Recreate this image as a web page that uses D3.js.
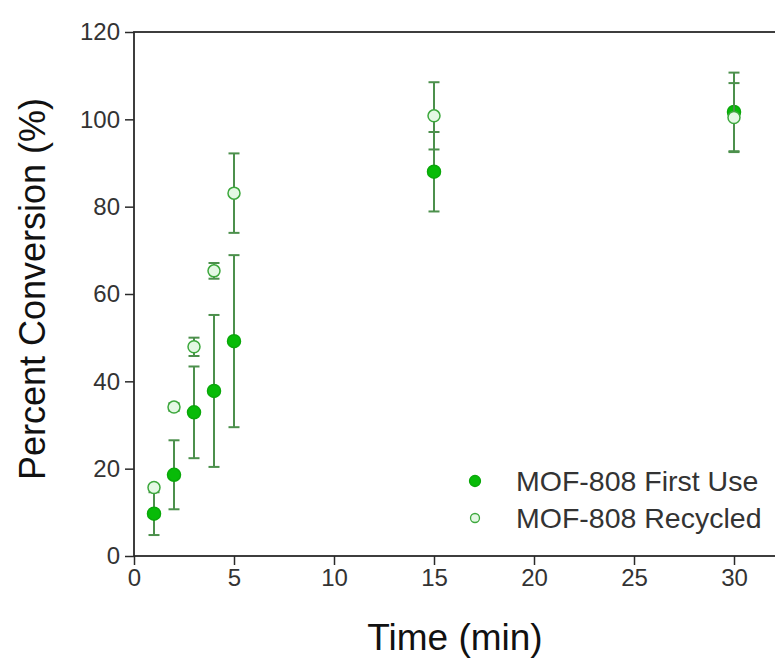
<!DOCTYPE html>
<html>
<head>
<meta charset="utf-8">
<script src="https://cdn.jsdelivr.net/npm/d3@7"></script>
<style>
  body { margin: 0; background: #fff; }
  svg { display: block; font-family: "Liberation Sans", Arial, sans-serif; }
</style>
</head>
<body>
<svg class="svgMain" width="775" height="661"></svg>
<script>
// Time points (min) and conversion data.
const times = [1, 2, 3, 4, 5, 15, 30];
const firstUse = [9.7, 18.6, 32.9, 37.8, 49.2, 88.0, 101.7];
const firstUseErr = [4.9, 7.9, 10.5, 17.4, 19.7, 9.1, 9.0];
const recycled = [15.7, 34.1, 47.9, 65.3, 83.1, 100.8, 100.4];
const recycledErr = [0.6, 0.9, 2.1, 1.8, 9.1, 7.7, 7.9];
const seriesNames = ["MOF-808 First Use", "MOF-808 Recycled"];
const xTicks = [0, 5, 10, 15, 20, 25, 30];
const yTicks = [0, 20, 40, 60, 80, 100, 120];

const svgMain = d3.select(".svgMain");
const axisColor = "#2a2a2a";
const labelColor = "#333";
const errColor = "#4c904c";

// Scales: plot frame runs past the right edge of the picture.
const x = d3.scaleLinear().domain([0, 32.5]).range([134, 784]);
const y = d3.scaleLinear().domain([0, 120]).range([556, 32]);

// Frame (top line and left/bottom axes).
svgMain.append("rect")
    .attr("x", x(0)).attr("y", y(120))
    .attr("width", x(32.5) - x(0)).attr("height", y(0) - y(120))
    .attr("fill", "none").attr("stroke", axisColor).attr("stroke-width", 1.8);

// Bottom axis with minor ticks.
const xAxis = svgMain.append("g").attr("transform", `translate(0,${y(0)})`);
xAxis.call(d3.axisBottom(x).tickValues(d3.range(0, 32.6, 2.5)).tickSize(5).tickFormat(""))
    .call(g => g.select(".domain").remove());
xAxis.call(d3.axisBottom(x).tickValues(xTicks).tickSize(9).tickPadding(4).tickFormat(d3.format("d")))
    .call(g => g.select(".domain").remove());
xAxis.selectAll("line").attr("stroke", axisColor).attr("stroke-width", 1.5);
xAxis.selectAll("text").attr("fill", labelColor).attr("font-size", 24)
    .attr("font-family", "Liberation Sans, Arial, sans-serif");

// Left axis with minor ticks.
const yAxis = svgMain.append("g").attr("transform", `translate(${x(0)},0)`);
yAxis.call(d3.axisLeft(y).tickValues(d3.range(0, 121, 10)).tickSize(5).tickFormat(""))
    .call(g => g.select(".domain").remove());
yAxis.call(d3.axisLeft(y).tickValues(yTicks).tickSize(9).tickPadding(5).tickFormat(d3.format("d")))
    .call(g => g.select(".domain").remove());
yAxis.selectAll("line").attr("stroke", axisColor).attr("stroke-width", 1.5);
yAxis.selectAll("text").attr("fill", labelColor).attr("font-size", 24)
    .attr("font-family", "Liberation Sans, Arial, sans-serif");

// Axis titles.
svgMain.append("text")
    .text("Time (min)")
    .attr("x", 455).attr("y", 650)
    .attr("text-anchor", "middle").attr("font-size", 37).attr("fill", "#111");
svgMain.append("text")
    .text("Percent Conversion (%)")
    .attr("transform", "translate(45,289) rotate(-90)")
    .attr("text-anchor", "middle").attr("font-size", 36).attr("fill", "#111");

// Draw error bars and markers for one series.
function drawSeries (values, errs, fill, stroke, r) {
    const g = svgMain.append("g");
    times.forEach((t, i) => {
        const cx = x(t);
        const top = y(values[i] + errs[i]);
        const bot = y(values[i] - errs[i]);
        g.append("line").attr("x1", cx).attr("x2", cx).attr("y1", top).attr("y2", bot)
            .attr("stroke", errColor).attr("stroke-width", 2);
        [top, bot].forEach(cy => {
            g.append("line").attr("x1", cx - 5.5).attr("x2", cx + 5.5).attr("y1", cy).attr("y2", cy)
                .attr("stroke", errColor).attr("stroke-width", 2);
        });
    });
    g.selectAll("circle").data(values).enter().append("circle")
        .attr("cx", (d, i) => x(times[i])).attr("cy", d => y(d))
        .attr("r", r).attr("fill", fill).attr("stroke", stroke).attr("stroke-width", 1.5);
}

// Recycled is drawn last so it sits on top, as in the reference.
drawSeries(firstUse, firstUseErr, "#08bb08", "#0aa80a", 6.5);
drawSeries(recycled, recycledErr, "#e4f8e4", "#3da83d", 6);

// Legend.
const legend = svgMain.append("g");
const legendY = [481, 518];
const legendR = [5.5, 4.5];
const legendFill = ["#08bb08", "#e4f8e4"];
const legendStroke = ["#0aa80a", "#3da83d"];
seriesNames.forEach((name, i) => {
    legend.append("circle").attr("cx", 475).attr("cy", legendY[i]).attr("r", legendR[i])
        .attr("fill", legendFill[i]).attr("stroke", legendStroke[i]).attr("stroke-width", 1.3);
    legend.append("text").text(name)
        .attr("x", 516).attr("y", legendY[i] + 10)
        .attr("font-size", 28.5).attr("fill", labelColor);
});
</script>
</body>
</html>
